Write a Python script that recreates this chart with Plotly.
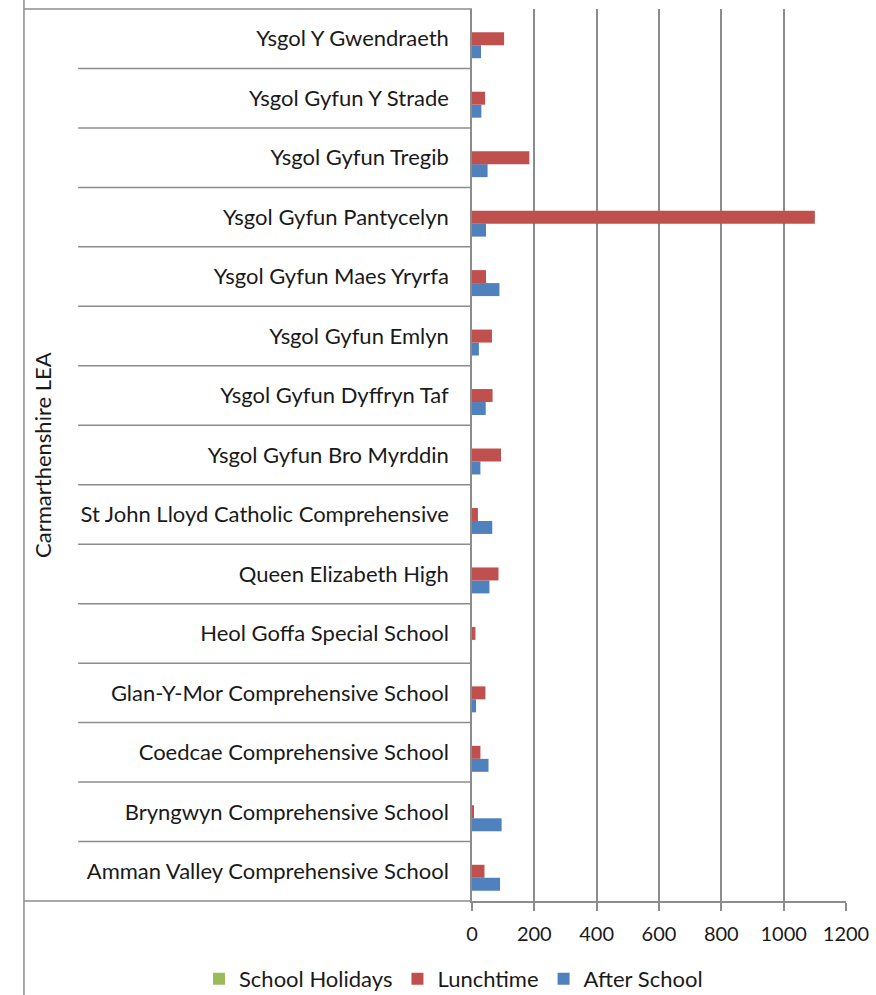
import plotly.graph_objects as go

categories = [
    "Amman Valley Comprehensive School",
    "Bryngwyn Comprehensive School",
    "Coedcae Comprehensive School",
    "Glan-Y-Mor Comprehensive School",
    "Heol Goffa Special School",
    "Queen Elizabeth High",
    "St John Lloyd Catholic Comprehensive",
    "Ysgol Gyfun Bro Myrddin",
    "Ysgol Gyfun Dyffryn Taf",
    "Ysgol Gyfun Emlyn",
    "Ysgol Gyfun Maes Yryrfa",
    "Ysgol Gyfun Pantycelyn",
    "Ysgol Gyfun Tregib",
    "Ysgol Gyfun Y Strade",
    "Ysgol Y Gwendraeth",
]
school_holidays = [0, 0, 0, 0, 0, 0, 0, 0, 0, 0, 0, 0, 0, 0, 0]
lunchtime = [40, 6, 27, 43, 11, 85, 19, 93, 66, 64, 45, 1100, 184, 42, 103]
after_school = [90, 95, 53, 13, 0, 56, 65, 27, 44, 22, 88, 45, 50, 30, 29]
x_ticks = [0, 200, 400, 600, 800, 1000, 1200]
group_label = "Carmarthenshire LEA"

FONT = "Lato"
GRID = "#8c8c8c"

fig = go.Figure()
fig.add_trace(go.Bar(y=categories, x=after_school, orientation="h", name="After School",
                     marker=dict(color="#4f81bd", line=dict(width=0))))
fig.add_trace(go.Bar(y=categories, x=lunchtime, orientation="h", name="Lunchtime",
                     marker=dict(color="#c0504d", line=dict(width=0))))
fig.add_trace(go.Bar(y=categories, x=school_holidays, orientation="h", name="School Holidays",
                     marker=dict(color="#9bbb59", line=dict(width=0))))

# frame and separator lines (left category area)
shapes = []
L = dict(color=GRID, width=1.5)
n = len(categories)
for i in range(n - 1):
    shapes.append(dict(type="line", xref="paper", yref="y", x0=-1.053, x1=0,
                       y0=i + 0.5, y1=i + 0.5, line=L, layer="below"))
shapes.append(dict(type="line", xref="paper", yref="paper", x0=-1.198, x1=0, y0=1, y1=1, line=L))
shapes.append(dict(type="line", xref="paper", yref="paper", x0=-1.198, x1=0, y0=0, y1=0, line=L))
shapes.append(dict(type="line", xref="paper", yref="paper", x0=-1.198, x1=-1.198,
                   y0=-0.11, y1=1.02, line=L))

fig.update_layout(
    width=876, height=995,
    margin=dict(l=472, r=30, t=9, b=94, autoexpand=False),
    paper_bgcolor="white", plot_bgcolor="white",
    barmode="group", bargap=0.345, bargroupgap=0,
    font=dict(family=FONT, size=22, color="#1a1a1a"),
    shapes=shapes,
    showlegend=True,
    legend=dict(orientation="h", traceorder="reversed",
                xref="paper", yref="paper",
                x=-0.730, xanchor="left", y=-0.0874, yanchor="middle",
                font=dict(size=22, family=FONT),
                itemwidth=30, tracegroupgap=0, bgcolor="rgba(0,0,0,0)"),
    xaxis=dict(range=[0, 1200], tickvals=x_ticks, ticktext=[str(v) for v in x_ticks],
               showgrid=True, gridcolor=GRID, gridwidth=1.5, zeroline=False,
               showline=True, linecolor=GRID, linewidth=1.5,
               ticks="outside", ticklen=8, tickcolor=GRID, tickwidth=1.5,
               ticklabelstandoff=6,
               tickfont=dict(size=20, family=FONT), fixedrange=True),
    yaxis=dict(type="category", categoryorder="array", categoryarray=categories,
               range=[-0.5, n - 0.5], showgrid=False, zeroline=False,
               showline=True, linecolor=GRID, linewidth=1.5, ticks="",
               ticklabelstandoff=17, tickfont=dict(size=22, family=FONT)),
    annotations=[dict(text=group_label, xref="paper", yref="paper", x=-1.15, y=0.5,
                      textangle=-90, showarrow=False, font=dict(size=22, family=FONT),
                      xanchor="center", yanchor="middle")],
)

fig.write_html("out.html", config={"displayModeBar": False},
               post_script="document.body.style.margin='0';")
